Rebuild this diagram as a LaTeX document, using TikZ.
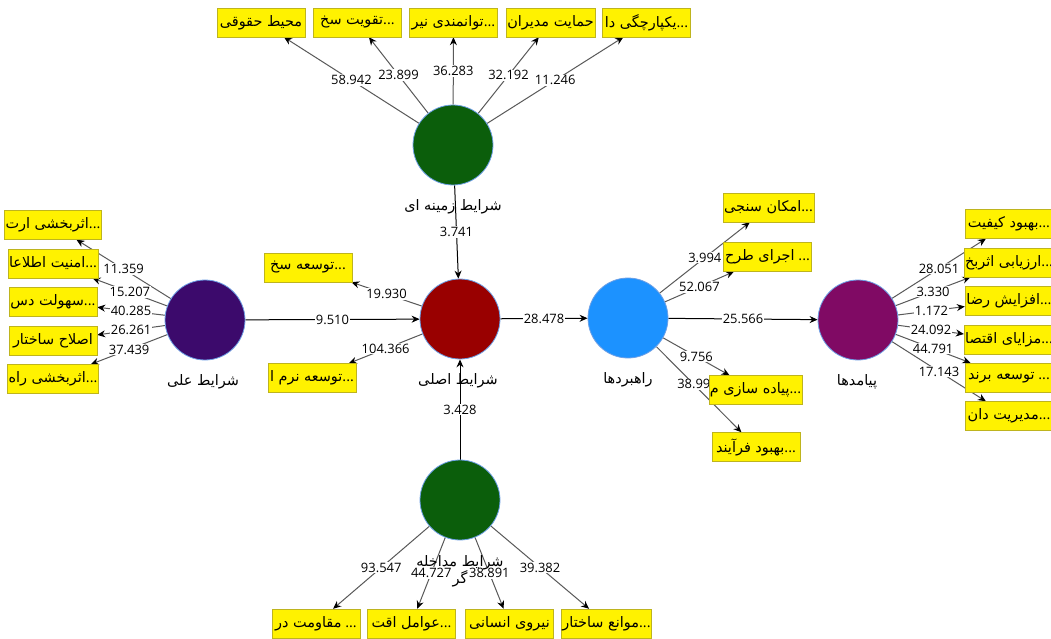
\documentclass[tikz,border=0pt]{standalone}
\usepackage{fontspec}
\setmainfont{Open Sans}
\newfontfamily\fa[Script=Arabic]{DejaVu Sans}
\TeXXeTstate=1
\usetikzlibrary{shapes.geometric, arrows.meta, backgrounds}
\newcommand{\fatxt}[1]{{\fa\beginR #1\endR}}

\definecolor{rimblue}{RGB}{110,160,230}
\definecolor{boxrim}{RGB}{190,180,30}
\definecolor{lvgreen}{RGB}{11,94,11}
\definecolor{lvred}{RGB}{153,0,0}
\definecolor{lvindigo}{RGB}{60,10,108}
\definecolor{lvblue}{RGB}{28,146,255}
\definecolor{lvplum}{RGB}{128,10,100}

\tikzstyle{latent} = [circle, minimum size=80bp, inner sep=0pt, draw=rimblue, line width=0.8bp]
\tikzstyle{indicator} = [rectangle, minimum width=88bp, minimum height=29bp, inner sep=1bp, draw=boxrim, fill=yellow, font=\fontsize{14.5}{16}\selectfont]
\tikzstyle{lvname} = [font=\fontsize{14.5}{17}\selectfont, align=center, inner sep=0pt]
\tikzstyle{coef} = [fill=white, inner sep=1bp, pos=0.5, font=\fontsize{13}{14}\selectfont]
\tikzstyle{loading} = [draw=black!65, line width=1bp, -{Stealth[length=8bp,width=7bp,color=black]}]
\tikzstyle{structural} = [draw=black, line width=1bp, -{Stealth[length=8bp,width=7bp]}]

\begin{document}
\begin{tikzpicture}[x=1bp, y=-1bp]

    \useasboundingbox (0,0) rectangle (1051,639);

    % Latent variables
    \node (zamine) [latent, fill=lvgreen] at (453,145) {};
    \node (asli) [latent, fill=lvred] at (460,319) {};
    \node (elli) [latent, fill=lvindigo] at (205,320) {};
    \node (rahbord) [latent, fill=lvblue] at (628,318) {};
    \node (payamad) [latent, fill=lvplum] at (858,320) {};
    \node (modakhele) [latent, fill=lvgreen] at (460,500) {};

    \node (zamineName) [lvname] at (453,207) {\fatxt{شرایط زمینه ای}};
    \node (asliName) [lvname] at (458,381) {\fatxt{شرایط اصلی}};
    \node (elliName) [lvname] at (203,382) {\fatxt{شرایط علی}};
    \node (rahbordName) [lvname] at (628,380) {\fatxt{راهبردها}};
    \node (payamadName) [lvname] at (857,382) {\fatxt{پیامدها}};
    \node (modakheleName) [lvname] at (460,571) {\fatxt{شرایط مداخله}\\\fatxt{گر}};

    % Indicators
    \node (z1) [indicator] at (261,22.5) {\fatxt{محیط حقوقی}};
    \node (z2) [indicator] at (357.5,22.5) {\fatxt{تقویت سخ}...};
    \node (z3) [indicator] at (453.5,22.5) {\fatxt{توانمندی نیر}...};
    \node (z4) [indicator] at (550.5,22.5) {\fatxt{حمایت مدیران}};
    \node (z5) [indicator] at (646.5,22.5) {\fatxt{یکپارچگی دا}...};

    \node (e1) [indicator] at (53,225) {\fatxt{اثربخشی ارت}...};
    \node (e2) [indicator] at (53,263.5) {\fatxt{امنیت اطلاعا}...};
    \node (e3) [indicator] at (53,302) {\fatxt{سهولت دس}...};
    \node (e4) [indicator] at (53,341) {\fatxt{اصلاح ساختار}};
    \node (e5) [indicator] at (53,379) {\fatxt{اثربخشی راه}...};

    \node (a1) [indicator] at (308,267.5) {\fatxt{توسعه سخ}...};
    \node (a2) [indicator] at (312,378) {\fatxt{توسعه نرم ا}...};

    \node (r1) [indicator] at (768.5,207.5) {\fatxt{امکان سنجی}...};
    \node (r2) [indicator] at (767.5,257) {\fatxt{اجرای طرح} ...};
    \node (r3) [indicator] at (755.5,390) {\fatxt{پیاده سازی م}...};
    \node (r4) [indicator] at (756,447) {\fatxt{بهبود فرآیند}...};

    \node (p1) [indicator] at (1009,224) {\fatxt{بهبود کیفیت}...};
    \node (p2) [indicator] at (1009,262.5) {\fatxt{ارزیابی اثربخ}...};
    \node (p3) [indicator] at (1009,301) {\fatxt{افزایش رضا}...};
    \node (p4) [indicator] at (1009,340) {\fatxt{مزایای اقتصا}...};
    \node (p5) [indicator] at (1009,377.5) {\fatxt{توسعه برند} ...};
    \node (p6) [indicator] at (1009,416) {\fatxt{مدیریت دان}...};

    \node (m1) [indicator] at (316,623.5) {\fatxt{مقاومت در} ...};
    \node (m2) [indicator] at (411.5,623.5) {\fatxt{عوامل اقت}...};
    \node (m3) [indicator] at (509.5,623.5) {\fatxt{نیروی انسانی}};
    \node (m4) [indicator] at (606.5,623.5) {\fatxt{موانع ساختار}...};

    \begin{scope}[on background layer]
    \fill [white] (0,0) rectangle (1051,639);

    % Outer loadings
    \draw [loading] (zamine) -- node[coef] {58.942} (z1);
    \draw [loading] (zamine) -- node[coef] {23.899} (z2);
    \draw [loading] (zamine) -- node[coef] {36.283} (z3);
    \draw [loading] (zamine) -- node[coef] {32.192} (z4);
    \draw [loading] (zamine) -- node[coef] {11.246} (z5);

    \draw [loading] (elli) -- node[coef] {11.359} (e1);
    \draw [loading] (elli) -- node[coef] {15.207} (e2);
    \draw [loading] (elli) -- node[coef] {40.285} (e3);
    \draw [loading] (elli) -- node[coef] {26.261} (e4);
    \draw [loading] (elli) -- node[coef] {37.439} (e5);

    \draw [loading] (asli) -- node[coef] {19.930} (a1);
    \draw [loading] (asli) -- node[coef] {104.366} (a2);

    \draw [loading] (rahbord) -- node[coef] {3.994} (r1);
    \draw [loading] (rahbord) -- node[coef] {52.067} (r2);
    \draw [loading] (rahbord) -- node[coef] {9.756} (r3);
    \draw [loading] (rahbord) -- node[coef, pos=0.44] {38.99} (r4);

    \draw [loading] (payamad) -- node[coef] {28.051} (p1);
    \draw [loading] (payamad) -- node[coef] {3.330} (p2);
    \draw [loading] (payamad) -- node[coef] {1.172} (p3);
    \draw [loading] (payamad) -- node[coef] {24.092} (p4);
    \draw [loading] (payamad) -- node[coef] {44.791} (p5);
    \draw [loading] (payamad) -- node[coef] {17.143} (p6);

    \draw [loading] (modakhele) -- node[coef] {93.547} (m1);
    \draw [loading] (modakhele) -- node[coef] {44.727} (m2);
    \draw [loading] (modakhele) -- node[coef] {38.891} (m3);
    \draw [loading] (modakhele) -- node[coef] {39.382} (m4);

    % Path coefficients
    \draw [structural] (zamine) -- node[coef] {3.741} (asli);
    \draw [structural] (elli) -- node[coef] {9.510} (asli);
    \draw [structural] (modakhele) -- node[coef] {3.428} (asli);
    \draw [structural] (asli) -- node[coef] {28.478} (rahbord);
    \draw [structural] (rahbord) -- node[coef] {25.566} (payamad);
    \end{scope}

\end{tikzpicture}
\end{document}
